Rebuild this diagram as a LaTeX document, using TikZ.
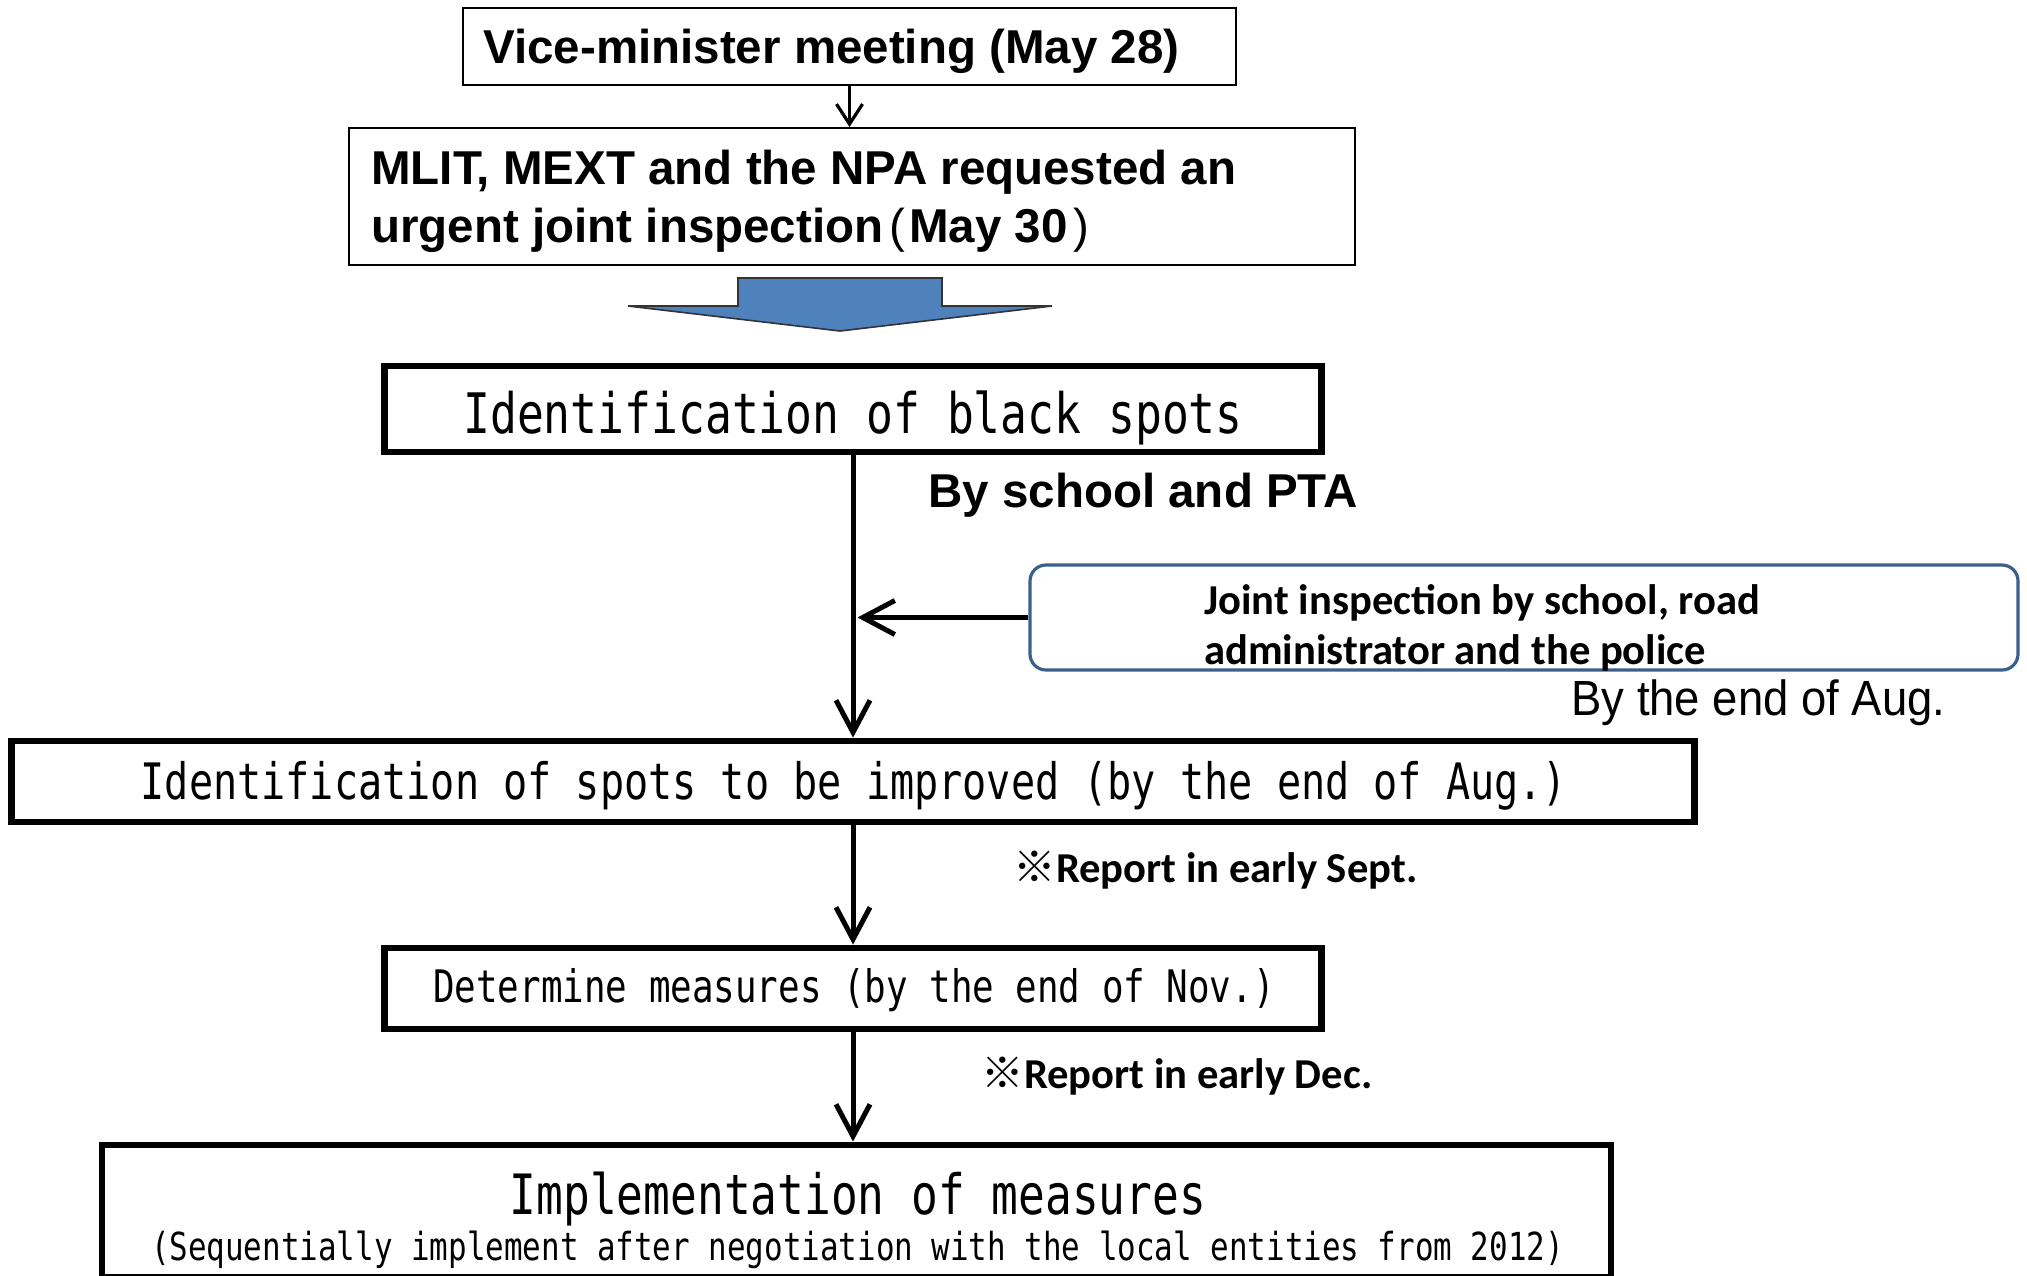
\documentclass[tikz,border=0pt]{standalone}
\usepackage{fontspec}
\setmainfont{Liberation Sans}
\newfontfamily\gothic[FakeStretch=0.8]{DejaVu Sans Mono}
\newfontfamily\calib{Carlito}
\newfontfamily\cjk{Noto Sans CJK JP}
\newfontfamily\pgoth[FakeStretch=0.92]{Liberation Sans}
\usetikzlibrary{arrows.meta}
\definecolor{arrowblue}{HTML}{4F81BD}
\definecolor{jointblue}{HTML}{3A5F8C}
\begin{document}
\begin{tikzpicture}[x=0.5pt,y=-0.5pt,
  thinbox/.style={draw=black, line width=1pt, inner sep=0pt},
  thickbox/.style={draw=black, line width=3.4pt, inner sep=0pt},
  jointbox/.style={draw=jointblue, line width=1.6pt, rounded corners=8pt, inner sep=0pt},
  arialb/.style={font=\bfseries\fontsize{23.75}{29}\selectfont},
  txt/.style={inner sep=0pt},
  label/.style={inner sep=0pt, anchor=west},
  flow/.style={line width=2.5pt, -{Straight Barb[length=16pt,width=17pt]}},
  smallflow/.style={line width=1.6pt, -{Straight Barb[length=10pt,width=13pt]}}
]
\useasboundingbox (0,0) rectangle (2027,1275);

% top boxes
\node[thinbox, minimum width=386.5pt, minimum height=38.5pt] (b1) at (849.5,46.5) {};
\node[txt, arialb, anchor=west] (b1t) at (483,51.5) {Vice-minister meeting (May 28)};
\node[thinbox, minimum width=503pt, minimum height=68.5pt] (b2) at (852,196.5) {};
\node[txt, arialb, anchor=west, align=left] (b2t) at (371,201.5)
  {MLIT, MEXT and the NPA requested an\\urgent joint inspection\kern3pt{\mdseries(\kern2pt}May 30{\mdseries\kern3pt)}};
\draw[smallflow] (b1.south) -- (b1.south |- b2.north);

% blue block arrow
\coordinate (ba) at (840,331);
\draw[fill=arrowblue, draw=black!80, line width=0.8pt]
  (738,278) -- (942,278) -- (942,306) -- (1052,306) -- (ba) -- (628,306) -- (738,306) -- cycle;

% main flow
\node[thickbox, minimum width=468.5pt, minimum height=43pt] (b3) at (853,409) {};
\node[txt, font=\gothic\fontsize{27.9}{30}\selectfont] (b3t) at (853,418) {Identification of black spots};
\node[thickbox, minimum width=841.5pt, minimum height=40.5pt] (b4) at (853,781.5) {};
\node[txt, font=\gothic\fontsize{25.1}{28}\selectfont] (b4t) at (854,785.5)
  {Identification of spots to be improved (by the end of Aug.)};
\node[thickbox, minimum width=468.5pt, minimum height=40.5pt] (b5) at (853,988.5) {};
\node[txt, font=\gothic\fontsize{22.4}{25}\selectfont] (b5t) at (854,990)
  {Determine measures (by the end of Nov.)};
\node[thickbox, minimum width=754.5pt, minimum height=66pt] (b6) at (856.5,1211) {};
\node[txt, font=\gothic\fontsize{27.8}{30}\selectfont] (b6a) at (858,1199) {Implementation of measures};
\node[txt, font=\gothic\fontsize{19.3}{22}\selectfont] (b6b) at (857.5,1250)
  {(Sequentially implement after negotiation with the local entities from 2012)};

\draw[flow] (b3.south) -- (b4.north);
\draw[flow] (b4.south) -- (b5.north);
\draw[flow] (b5.south) -- (b5.south |- b6.north);

% joint inspection
\node[jointbox, minimum width=494pt, minimum height=52.5pt] (jb) at (1524,617.5) {};
\node[label, align=left, font=\calib\bfseries\fontsize{21.3}{25}\selectfont] (jt) at (1204,628)
  {Joint inspection by school, road\\administrator and the police};
\coordinate (hit) at (857.5,617.5);
\draw[flow] (jb.west) -- (hit);

% labels
\node[label, arialb] (pta) at (928,495) {By school and PTA};
\node[label, font=\pgoth\fontsize{24.7}{28}\selectfont] (aug) at (1571,703) {By the end of Aug.};
\node[label, font=\calib\bfseries\fontsize{21.3}{25}\selectfont] (sept) at (1013,870) {{\cjk\mdseries ※}Report in early Sept.};
\node[label, font=\calib\bfseries\fontsize{21.3}{25}\selectfont] (dec) at (981,1076) {{\cjk\mdseries ※}Report in early Dec.};
\end{tikzpicture}
\end{document}
